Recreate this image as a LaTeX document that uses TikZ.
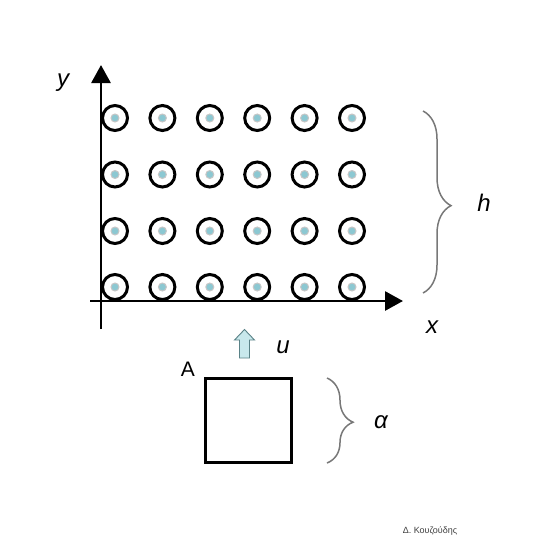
\documentclass[tikz,border=0pt]{standalone}
\usepackage{fontspec}
\setmainfont{Liberation Sans}
\usetikzlibrary{decorations.pathreplacing,arrows.meta}
\definecolor{dotcol}{RGB}{140,200,210}
\definecolor{arrcol}{RGB}{200,232,236}
\definecolor{arredge}{RGB}{90,130,135}
\definecolor{bracecol}{RGB}{120,120,120}
\begin{document}
\begin{tikzpicture}[x=1pt,y=-1pt,
  ring/.style={circle, draw=black, line width=3pt, minimum size=25pt, inner sep=0pt},
  dotc/.style={circle, fill=dotcol, draw=gray!45, line width=1pt, minimum size=8pt, inner sep=0pt},
  axis/.style={line width=2.8pt, -{Triangle[length=18pt,width=19pt]}},
  lbl/.style={font=\itshape\fontsize{24}{26}\selectfont},
  bracestyle/.style={decorate, draw=bracecol, line width=1.5pt},
  sq/.style={rectangle, draw=black, line width=2.8pt, minimum width=86pt, minimum height=84pt, inner sep=0pt}]
\useasboundingbox (0,0) rectangle (541,560);
\fill[white] (0,0) rectangle (541,560);
% axes
\coordinate (ybot) at (101,329);
\coordinate (ytop) at (101,65);
\coordinate (xleft) at (90,301);
\coordinate (xright) at (403,301);
\draw[axis] (ybot) -- (ytop);
\draw[axis] (xleft) -- (xright);
% rings
\foreach \i/\yy in {1/118,2/174.5,3/231,4/287}{
  \foreach \j/\xx in {1/115,2/162.4,3/209.8,4/257.2,5/304.6,6/352}{
    \node[ring] (r\i\j) at (\xx,\yy) {};
    \node[dotc] (d\i\j) at (r\i\j.center) {};
  }
}
% labels
\node[lbl] (ly) at (63,83) {y};
\node[lbl] (lx) at (432,327) {x};
% brace h
\coordinate (hb1) at (423,111);
\coordinate (hb2) at (423,293);
\draw[bracestyle, decoration={brace, amplitude=28pt, aspect=0.52}] (hb1) -- (hb2);
\node[lbl] (lh) at (484,203) {h};
% velocity arrow
\fill[arrcol, draw=arredge, line width=0.9pt]
  (239.5,358) -- (239.5,340) -- (234.5,340) -- (244.5,329.5) -- (254.5,340) -- (249.5,340) -- (249.5,358) -- cycle;
\node[lbl] (lu) at (283,347) {u};
% square
\node[sq] (sqA) at (248.5,420.5) {};
\node[font=\fontsize{21}{23}\selectfont] (lA) at (188,369) {A};
% brace alpha
\coordinate (ab1) at (327,378);
\coordinate (ab2) at (327,463);
\draw[bracestyle, decoration={brace, amplitude=26pt, aspect=0.52}] (ab1) -- (ab2);
\node[lbl] (la) at (381,422) {α};
% signature
\node[font=\fontsize{9}{10}\selectfont, text=black!75] (sig) at (430,531) {Δ. Κουζούδης};
\end{tikzpicture}
\end{document}
